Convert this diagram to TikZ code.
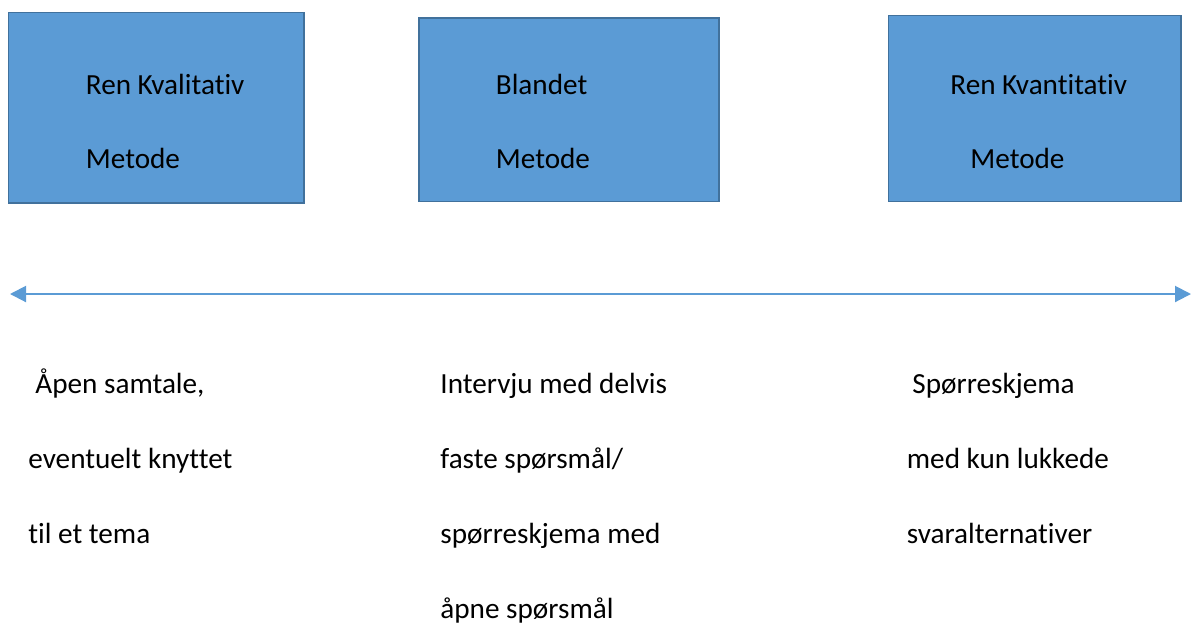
\documentclass[tikz,border=0pt]{standalone}
\usepackage{fontspec}
\setmainfont{Carlito}[Ligatures=NoCommon]
\usetikzlibrary{arrows.meta}
\definecolor{boxblue}{HTML}{5B9BD5}
\definecolor{boxedge}{HTML}{41719C}
\tikzset{
  blk/.style  = {draw=boxedge, fill=boxblue, line width=0.75pt, inner sep=0pt},
  txt/.style  = {anchor=base west, inner sep=0pt, font=\fontsize{14.6}{17}\selectfont},
  ar/.style   = {{Triangle[length=8pt, width=8pt]}-{Triangle[length=8pt, width=8pt]},
                 draw=boxblue, line width=1pt}
}
\begin{document}
\begin{tikzpicture}[x=0.5pt, y=-0.5pt]
  \useasboundingbox (0,0) rectangle (1193,623);
  % method boxes
  \node[blk, minimum width=147.75pt, minimum height=95.25pt] (kval) at (156.25,107.75) {};
  \node[blk, minimum width=150pt,    minimum height=91.75pt] (bland) at (569,109.75) {};
  \node[blk, minimum width=146.25pt, minimum height=93pt]    (kvant) at (1034.75,108.5) {};
  \node[txt] (kval1)  at (85.5,94)  {Ren Kvalitativ};
  \node[txt] (kval2)  at (85.5,168) {Metode};
  \node[txt] (bland1) at (495.5,94)  {Blandet};
  \node[txt] (bland2) at (495.5,168) {Metode};
  \node[txt] (kvant1) at (950,94)  {Ren Kvantitativ};
  \node[txt] (kvant2) at (970,168) {Metode};
  % scale
  \coordinate (left)  at (10,294);
  \coordinate (right) at (1191,294);
  \draw[ar] (left) -- (right);
  % descriptions
  \node[txt] (a1) at (35,393) {Åpen samtale,};
  \node[txt] (a2) at (28,468) {eventuelt knyttet};
  \node[txt] (a3) at (28,543) {til et tema};
  \node[txt] (b1) at (440,393) {Intervju med delvis};
  \node[txt] (b2) at (440,468) {faste spørsmål/};
  \node[txt] (b3) at (440,543) {spørreskjema med};
  \node[txt] (b4) at (440,618) {åpne spørsmål};
  \node[txt] (c1) at (912,393) {Spørreskjema};
  \node[txt] (c2) at (906.5,468) {med kun lukkede};
  \node[txt] (c3) at (906.5,543) {svaralternativer};
\end{tikzpicture}
\end{document}
